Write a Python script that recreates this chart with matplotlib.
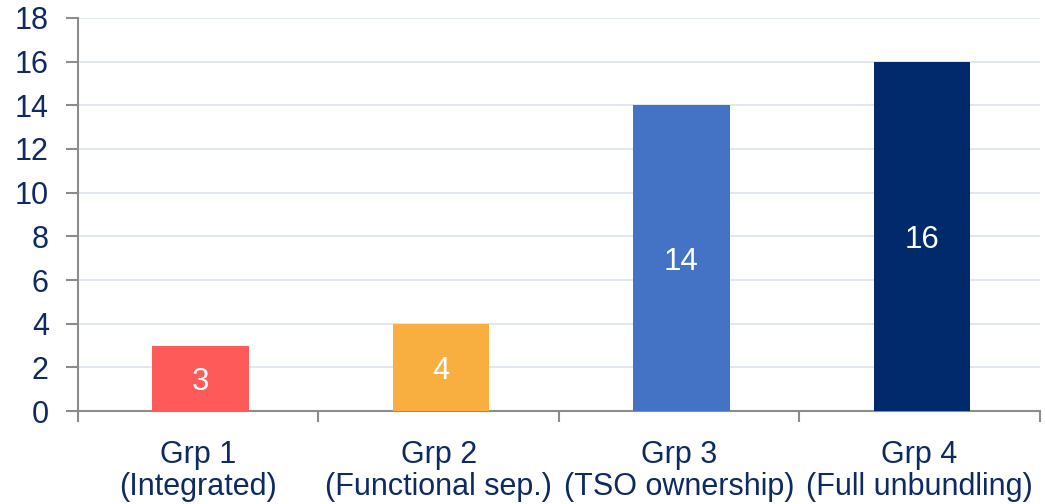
import numpy as np
import matplotlib.pyplot as plt

# data
groups = ["Grp 1\n(Integrated)", "Grp 2\n(Functional sep.)",
          "Grp 3\n(TSO ownership)", "Grp 4\n(Full unbundling)"]
counts = [3, 4, 14, 16]
colors = ["#FF5A5A", "#F9AE40", "#4472C4", "#002A6C"]

TEXT = "#0D2A63"
GRID = "#DCE3EE"
AXIS = "#8C8C8C"

plt.rcParams["font.family"] = ["Liberation Sans", "DejaVu Sans"]

fig = plt.figure(figsize=(10.45, 5.04), dpi=100)
ax = fig.add_axes([0.0746, 0.1845, 0.9204, 0.7798])

x = np.arange(len(groups))
bars = ax.bar(x + 0.01, counts, width=0.4, color=colors, zorder=3)

for xi, v in zip(x, counts):
    ax.text(xi + 0.01, v / 2, str(v), ha="center", va="center_baseline",
            color="white", fontsize=22.5, zorder=4)

ax.set_xlim(-0.5, len(groups) - 0.5)
ax.set_ylim(0, 18)
ax.set_yticks(np.arange(0, 19, 2))
ax.yaxis.grid(True, color=GRID, lw=1.2, zorder=0)

ax.set_xticks(x)
ax.set_xticklabels(groups, fontsize=22, color=TEXT, linespacing=1.1)
ax.set_xticks(np.arange(-0.5, len(groups), 1.0), minor=True)
ax.tick_params(axis="x", which="major", length=0, pad=21)
ax.tick_params(axis="x", which="minor", length=8, width=1.5, color=AXIS)
ax.tick_params(axis="y", length=9, width=1.5, color=AXIS, labelsize=22,
               labelcolor=TEXT, pad=12)

for side in ["top", "right"]:
    ax.spines[side].set_visible(False)
for side in ["left", "bottom"]:
    ax.spines[side].set_color(AXIS)
    ax.spines[side].set_linewidth(1.5)

fig.savefig("out.png", dpi=100)
